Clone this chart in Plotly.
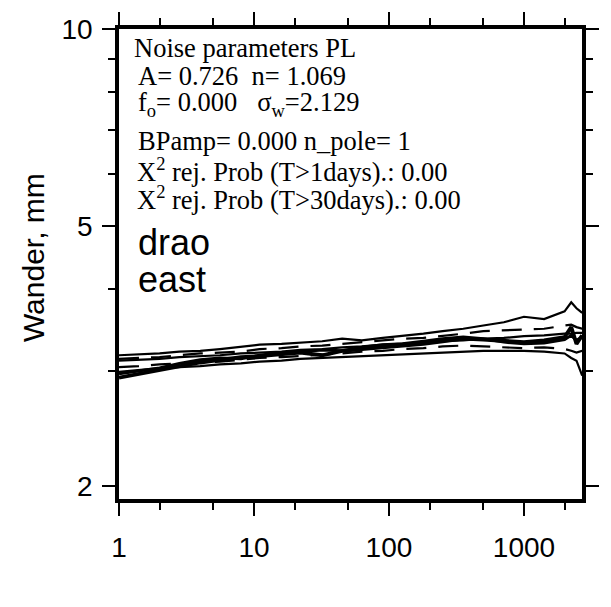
import plotly.graph_objects as go

# Period / averaging time (days)
periods = [1, 1.4, 2, 2.8, 4, 5.6, 8, 11, 16, 22, 32, 45, 63, 90, 126, 180, 250,
           355, 500, 710, 1000, 1410, 2000, 2240, 2450, 2700]

# Wander (mm) for each realisation
top_solid = [3.17, 3.18, 3.19, 3.21, 3.22, 3.24, 3.27, 3.29, 3.30, 3.31, 3.33, 3.36, 3.34,
             3.37, 3.39, 3.42, 3.45, 3.48, 3.52, 3.56, 3.63, 3.60, 3.70, 3.82, 3.74, 3.68]
upper_dashed = [3.13, 3.14, 3.15, 3.17, 3.19, 3.20, 3.21, 3.24, 3.25, 3.27, 3.28, 3.30, 3.32,
                3.34, 3.36, 3.37, 3.39, 3.42, 3.45, 3.46, 3.47, 3.48, 3.52, 3.53, 3.50, 3.48]
model_line = [3.11, 3.12, 3.13, 3.15, 3.16, 3.17, 3.19, 3.20, 3.21, 3.23, 3.24, 3.26, 3.27,
              3.29, 3.30, 3.31, 3.33, 3.34, 3.36, 3.37, 3.39, 3.40, 3.42, 3.42, 3.43, 3.43]
thick_a = [2.93, 2.97, 3.01, 3.05, 3.09, 3.12, 3.15, 3.16, 3.18, 3.20, 3.17, 3.22, 3.24,
           3.26, 3.28, 3.30, 3.33, 3.36, 3.35, 3.33, 3.32, 3.34, 3.38, 3.50, 3.30, 3.40]
thick_b = [2.97, 3.00, 3.03, 3.08, 3.12, 3.14, 3.13, 3.17, 3.20, 3.21, 3.23, 3.22, 3.26,
           3.29, 3.30, 3.33, 3.36, 3.38, 3.36, 3.32, 3.30, 3.31, 3.35, 3.40, 3.34, 3.38]
lower_dashed = [3.04, 3.05, 3.07, 3.08, 3.09, 3.10, 3.12, 3.14, 3.15, 3.16, 3.18, 3.19, 3.21,
                3.22, 3.24, 3.25, 3.27, 3.28, 3.27, 3.26, 3.25, 3.26, 3.24, 3.22, 3.20, 3.22]
bottom_solid = [2.99, 3.01, 3.03, 3.04, 3.05, 3.07, 3.08, 3.10, 3.11, 3.13, 3.14, 3.15, 3.16,
                3.17, 3.18, 3.19, 3.20, 3.21, 3.22, 3.22, 3.22, 3.21, 3.19, 3.14, 3.11, 2.95]

x_major = [1, 10, 100, 1000]
x_major_text = ["1", "10", "100", "1000"]
x_minor = [2, 5, 20, 50, 200, 500, 2000]
y_major = [2, 5, 10]
y_major_text = ["2", "5", "10"]
y_minor = [3, 4, 6, 7, 8, 9]

info_lines = [
    "Noise parameters PL",
    "A= 0.726\u00a0\u00a0n= 1.069",
    "f<sub>o</sub>= 0.000\u00a0\u00a0\u00a0σ<sub>w</sub>=2.129",
    "BPamp= 0.000 n_pole= 1",
    "X<sup>2</sup> rej. Prob (T>1days).: 0.00",
    "X<sup>2</sup> rej. Prob (T>30days).: 0.00",
]
site_lines = ["drao", "east"]

series = [
    (top_solid, 2.2, "solid"),
    (upper_dashed, 2.2, "20px,12px"),
    (model_line, 2.2, "solid"),
    (lower_dashed, 2.2, "20px,12px"),
    (bottom_solid, 2.2, "solid"),
    (thick_b, 3, "solid"),
    (thick_a, 3.8, "solid"),
]

fig = go.Figure()
for ys, w, d in series:
    fig.add_trace(go.Scatter(x=periods, y=ys, mode="lines",
                             line=dict(color="black", width=w, dash=d),
                             showlegend=False, hoverinfo="skip"))

W, H = 611, 607
ml, mr, mt, mb = 118.5, 16, 23, 108
pw, ph = W - ml - mr, H - mt - mb

def px(xp):
    return (xp - ml) / pw

def py(yp):
    return 1 - (yp - mt) / ph

tickfont = dict(family="Liberation Sans, Arial", size=28, color="black")

fig.update_layout(
    width=W, height=H,
    margin=dict(l=ml, r=mr, t=mt, b=mb, pad=0),
    paper_bgcolor="white", plot_bgcolor="white",
    xaxis=dict(type="log", range=[0, 3.43], showgrid=False, zeroline=False,
               showline=True, linewidth=3.5, linecolor="black", mirror="ticks",
               ticks="outside", ticklen=13, tickwidth=2, tickcolor="black",
               tickmode="array", tickvals=x_major, ticktext=x_major_text,
               tickfont=tickfont, ticklabelstandoff=8,
               minor=dict(tickmode="array", tickvals=x_minor, ticks="outside",
                          ticklen=7, tickwidth=2, tickcolor="black", showgrid=False)),
    yaxis=dict(type="log", range=[0.2812, 1], showgrid=False, zeroline=False,
               showline=True, linewidth=3.5, linecolor="black", mirror="ticks",
               ticks="outside", ticklen=13, tickwidth=2, tickcolor="black",
               tickmode="array", tickvals=y_major, ticktext=y_major_text,
               tickfont=tickfont, ticklabelstandoff=4,
               minor=dict(tickmode="array", tickvals=y_minor, ticks="outside",
                          ticklen=7, tickwidth=2, tickcolor="black", showgrid=False)),
)

# y axis title
fig.add_annotation(text="Wander, mm", xref="paper", yref="paper",
                   x=px(30), y=py(255), textangle=-90, showarrow=False,
                   xanchor="center", yanchor="middle",
                   font=dict(family="Liberation Sans, Arial", size=30, color="black"))

serif = dict(family="Liberation Serif, Times New Roman", size=26.5, color="black")
info_x = [132, 136, 136, 136, 135, 135]
info_base = [58, 87, 115, 152, 182, 210]
for t, xx, yb in zip(info_lines, info_x, info_base):
    fig.add_annotation(text=t, xref="paper", yref="paper", x=px(xx), y=py(yb - 16),
                       xanchor="left", yanchor="middle", showarrow=False,
                       font=serif, align="left")

sans = dict(family="Liberation Sans, Arial", size=36, color="black")
for t, yb in zip(site_lines, [255, 293]):
    fig.add_annotation(text=t, xref="paper", yref="paper", x=px(136), y=py(yb - 16),
                       xanchor="left", yanchor="middle", showarrow=False, font=sans)

fig.write_html("out.html")
